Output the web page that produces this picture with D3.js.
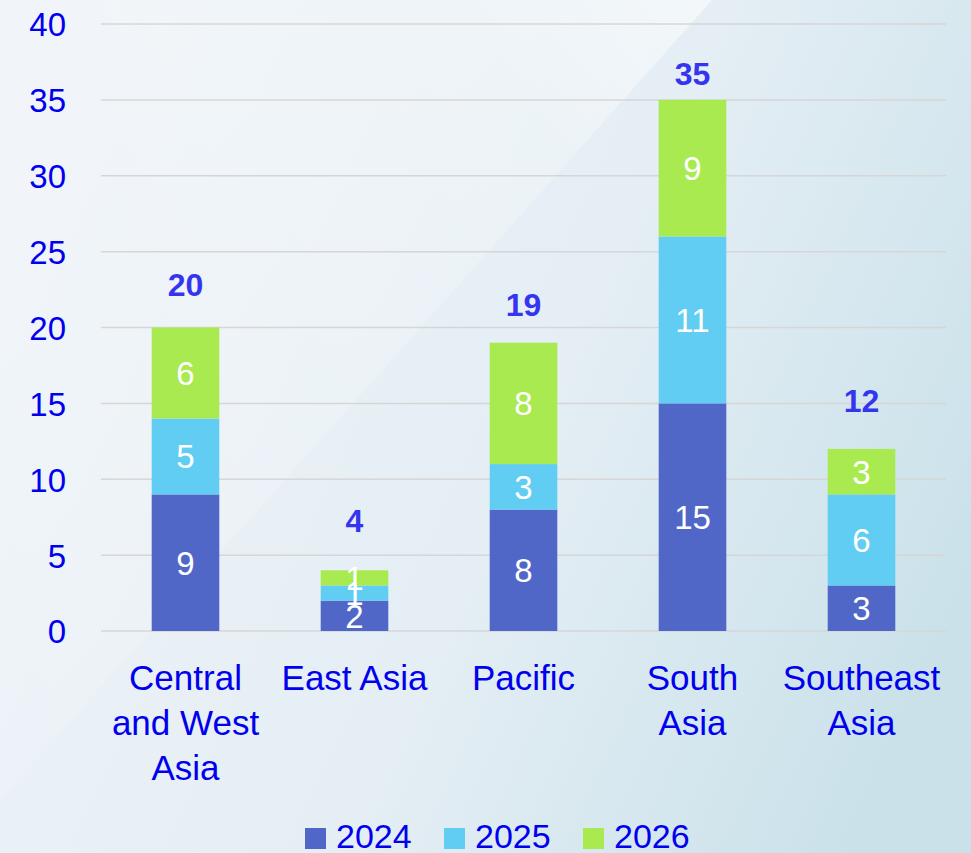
<!DOCTYPE html>
<html><head><meta charset="utf-8">
<script src="https://cdn.jsdelivr.net/npm/d3@7"></script>
<style>html,body{margin:0;padding:0;overflow:hidden;}svg{display:block;}</style>
</head><body>
<script>
const categories = [["Central","and West","Asia"],["East Asia"],["Pacific"],["South","Asia"],["Southeast","Asia"]];
const categoryKeys = ["Central and West Asia","East Asia","Pacific","South Asia","Southeast Asia"];
const seriesNames = ["2024","2025","2026"];
const v2024 = [9,2,8,15,3];
const v2025 = [5,1,3,11,6];
const v2026 = [6,1,8,9,3];
const totals = [20,4,19,35,12];
const yTicks = [0,5,10,15,20,25,30,35,40];
const colors = ["#5067C8","#62CDF2","#A8EA50"];

const W=971,H=853;
const svg=d3.select("body").append("svg").attr("width",W).attr("height",H);
const defs=svg.append("defs");
const bg=defs.append("linearGradient").attr("id","bg").attr("x1","0").attr("y1","0.3").attr("x2","1").attr("y2","0.7");
bg.append("stop").attr("offset","0").attr("stop-color","#eef3f8");
bg.append("stop").attr("offset","0.55").attr("stop-color","#e4eef4");
bg.append("stop").attr("offset","1").attr("stop-color","#cae1ea");
svg.append("rect").attr("width",W).attr("height",H).attr("fill","url(#bg)");
const hl=defs.append("linearGradient").attr("id","hl").attr("x1","0").attr("y1","1").attr("x2","1").attr("y2","0");
hl.append("stop").attr("offset","0").attr("stop-color","#ffffff").attr("stop-opacity","0.1");
hl.append("stop").attr("offset","0.8").attr("stop-color","#ffffff").attr("stop-opacity","0.25");
hl.append("stop").attr("offset","1").attr("stop-color","#ffffff").attr("stop-opacity","0.55");
svg.append("path").attr("d","M0,0 L712,0 L0,800 Z").attr("fill","url(#hl)");

const y=d3.scaleLinear().domain([0,40]).range([631,24]);
const x=d3.scaleBand().domain(categoryKeys).range([101,946]).paddingInner(0.6).paddingOuter(0.3);
const font="'Liberation Sans', Arial, sans-serif";
const totalGap=[32,38,27,15,37];

// grid
svg.append("g").selectAll("line").data(yTicks).join("line")
 .attr("x1",101).attr("x2",946).attr("y1",d=>y(d)).attr("y2",d=>y(d))
 .attr("stroke","#d6d6d6").attr("stroke-width",1.5);
// y labels
const yAxis=d3.axisLeft(y).tickValues(yTicks).tickSize(0).tickPadding(0);
const ga=svg.append("g").attr("transform","translate(66,0)").call(yAxis);
ga.select(".domain").remove();
ga.selectAll("text").attr("font-family",font).attr("font-size",33).attr("fill","#0000ee").attr("dy","0.36em");

const data=categoryKeys.map((c,i)=>({cat:c,"2024":v2024[i],"2025":v2025[i],"2026":v2026[i]}));
const stack=d3.stack().keys(seriesNames)(data);
const gs=svg.append("g");
stack.forEach((s,si)=>{
  gs.selectAll(null).data(s).join("rect")
   .attr("x",d=>x(d.data.cat)).attr("width",x.bandwidth())
   .attr("y",d=>y(d[1])).attr("height",d=>y(d[0])-y(d[1])).attr("fill",colors[si]);
});
stack.forEach((s,si)=>{
  gs.selectAll(null).data(s).join("text")
   .attr("x",d=>x(d.data.cat)+x.bandwidth()/2).attr("y",d=>(y(d[0])+y(d[1]))/2)
   .attr("dy","0.36em").attr("text-anchor","middle")
   .attr("font-family",font).attr("font-size",33).attr("fill","#ffffff")
   .text(d=>d[1]-d[0]);
});
// totals
svg.append("g").selectAll("text").data(categoryKeys).join("text")
 .attr("x",d=>x(d)+x.bandwidth()/2).attr("y",(d,i)=>y(totals[i])-totalGap[i])
 .attr("text-anchor","middle").attr("font-family",font).attr("font-weight","bold")
 .attr("font-size",32).attr("fill","#3535f0").text((d,i)=>totals[i]);
// x labels
const gx=svg.append("g");
categoryKeys.forEach((c,i)=>{
  const cx=x(c)+x.bandwidth()/2;
  const t=gx.append("text").attr("x",cx).attr("y",690)
   .attr("text-anchor","middle").attr("font-family",font).attr("font-size",35).attr("fill","#0000ee");
  categories[i].forEach((ln,j)=>t.append("tspan").attr("x",cx).attr("y",690+j*45).text(ln));
});
// legend
const lx=[305,444,583];
const lg=svg.append("g");
seriesNames.forEach((s,i)=>{
  lg.append("rect").attr("x",lx[i]).attr("y",828).attr("width",21).attr("height",21).attr("fill",colors[i]);
  lg.append("text").attr("x",lx[i]+31).attr("y",848).attr("font-family",font).attr("font-size",34).attr("fill","#0000ee").text(s);
});
</script>
</body></html>
